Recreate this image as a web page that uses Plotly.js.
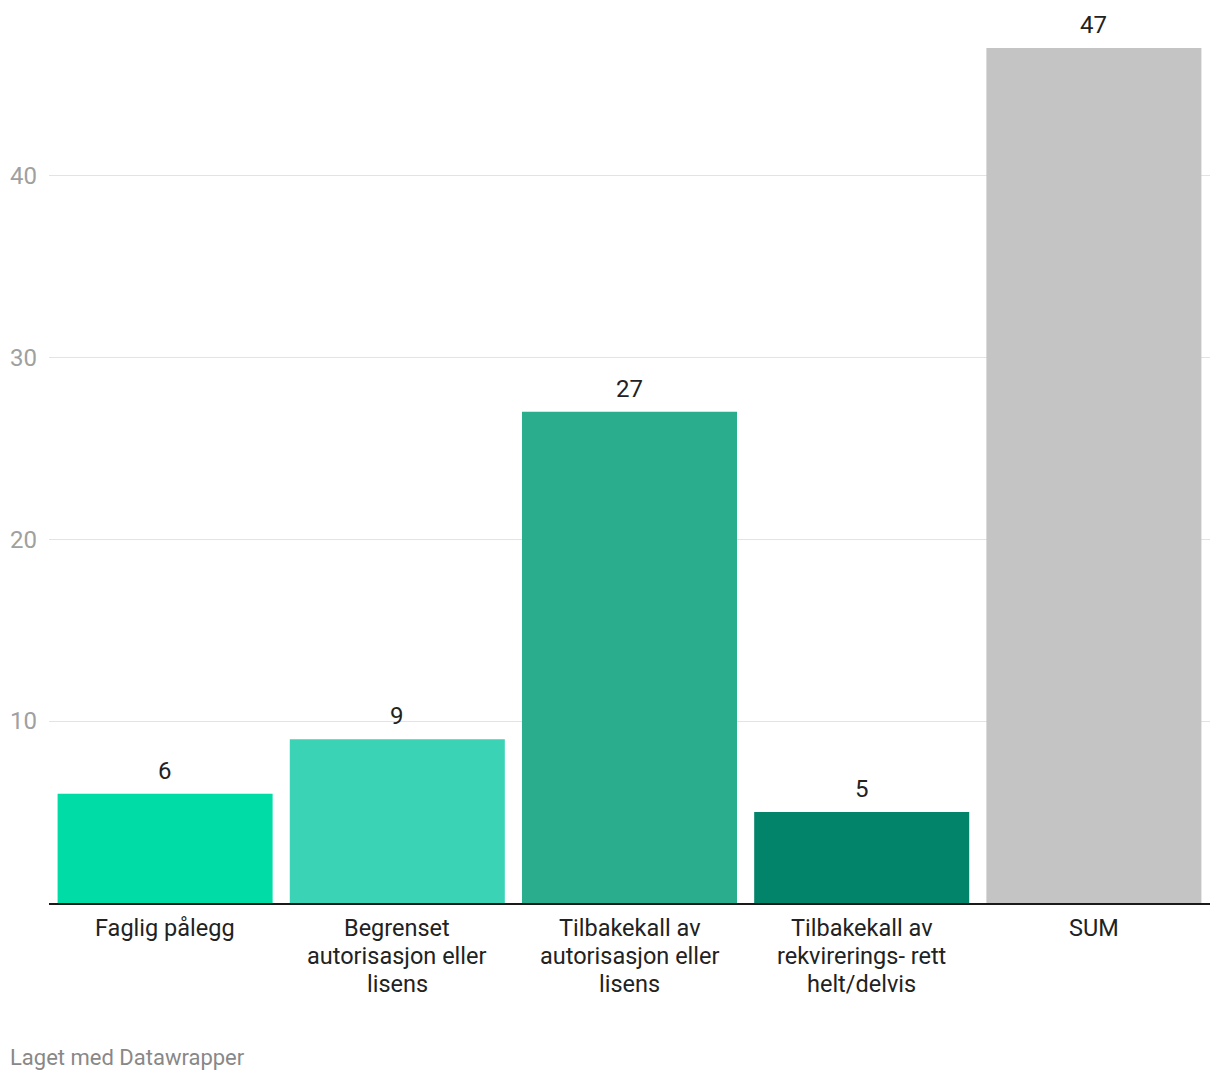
<!DOCTYPE html>
<html>
<head>
<meta charset="utf-8">
<script src="https://cdn.plot.ly/plotly-3.0.1.min.js"></script>
<style>
  html, body { margin: 0; padding: 0; background: #fff; }
  #chart { width: 1220px; height: 1080px; }
</style>
</head>
<body>
<div id="chart"></div>
<script>
const categories = [
  "Faglig pålegg",
  "Begrenset autorisasjon eller lisens",
  "Tilbakekall av autorisasjon eller lisens",
  "Tilbakekall av rekvirerings- rett helt/delvis",
  "SUM"
];
const categoryLines = [
  ["Faglig pålegg"],
  ["Begrenset", "autorisasjon eller", "lisens"],
  ["Tilbakekall av", "autorisasjon eller", "lisens"],
  ["Tilbakekall av", "rekvirerings- rett", "helt/delvis"],
  ["SUM"]
];
const values = [6, 9, 27, 5, 47];
const barColors = ["#00dca6", "#3bd3b5", "#2aad8c", "#02846a", "#c4c4c4"];
const yTickVals = [10, 20, 30, 40];
const footerText = "Laget med Datawrapper";

const trace = {
  type: "bar",
  x: categories,
  y: values,
  marker: { color: barColors, line: { width: 0 } },
  hoverinfo: "none",
  cliponaxis: false
};

const annotations = categories.map((c, i) => ({
  x: c, y: values[i], xref: "x", yref: "y",
  text: String(values[i]),
  showarrow: false, yanchor: "middle", yshift: 23,
  font: { family: "Roboto", size: 24, color: "#222" }
}));
categoryLines.forEach((lines, i) => {
  lines.forEach((ln, j) => {
    annotations.push({
      x: categories[i], y: 0, xref: "x", yref: "paper",
      text: ln, showarrow: false, yanchor: "middle",
      yshift: -(25 + 28 * j),
      font: { family: "Roboto", size: 23.5, color: "#222" }
    });
  });
});
annotations.push({
  x: -41 / 1161, y: -154 / 883, xref: "paper", yref: "paper",
  xanchor: "left", yanchor: "middle",
  text: footerText, showarrow: false,
  font: { family: "Roboto", size: 22, color: "#888" }
});

const layout = {
  width: 1220, height: 1080,
  margin: { l: 49, r: 10, t: 20, b: 177, pad: 0 },
  paper_bgcolor: "#fff", plot_bgcolor: "#fff",
  bargap: 0.074,
  showlegend: false,
  font: { family: "Roboto", color: "#222" },
  xaxis: {
    type: "category",
    showline: true, linecolor: "#1a1a1a", linewidth: 2,
    showgrid: false, ticks: "", showticklabels: false,
    fixedrange: true
  },
  yaxis: {
    range: [0, 48.54],
    tickvals: yTickVals,
    ticktext: yTickVals.map(String),
    showgrid: true, gridcolor: "#e3e3e3", gridwidth: 1,
    zeroline: false, showline: false, ticks: "",
    tickfont: { family: "Roboto", size: 24, color: "#a0a0a0" },
    ticklabelstandoff: 11,
    fixedrange: true
  },
  annotations: annotations
};

Plotly.newPlot("chart", [trace], layout, { displayModeBar: false, staticPlot: true });
</script>
</body>
</html>
